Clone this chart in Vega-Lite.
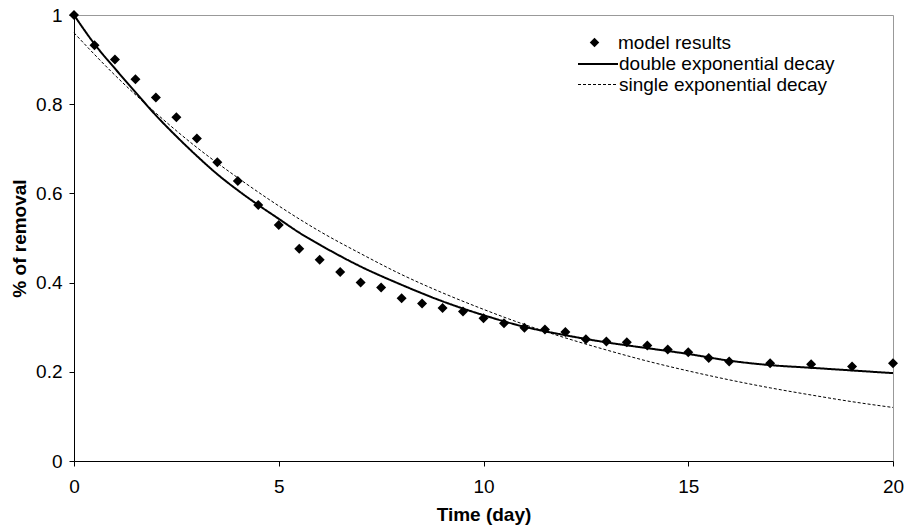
{
  "$schema": "https://vega.github.io/schema/vega-lite/v6.json",
  "width": 819,
  "height": 446,
  "autosize": "none",
  "padding": {"left": 74, "top": 15, "right": 14, "bottom": 71},
  "background": "white",
  "config": {
    "font": "Liberation Sans",
    "view": {"stroke": "#999999", "strokeWidth": 1},
    "axis": {
      "grid": false,
      "domainColor": "black",
      "tickColor": "black",
      "tickSize": 5,
      "labelColor": "black",
      "labelFont": "Liberation Sans",
      "labelFontSize": 19,
      "titleColor": "black",
      "titleFont": "Liberation Sans",
      "titleFontSize": 19,
      "titleFontWeight": "bold"
    }
  },
  "datasets": {
    "model": [
      {"t": 0, "v": 1.0}, {"t": 0.5, "v": 0.932}, {"t": 1, "v": 0.9}, {"t": 1.5, "v": 0.856},
      {"t": 2, "v": 0.815}, {"t": 2.5, "v": 0.771}, {"t": 3, "v": 0.723}, {"t": 3.5, "v": 0.67},
      {"t": 4, "v": 0.628}, {"t": 4.5, "v": 0.574}, {"t": 5, "v": 0.529}, {"t": 5.5, "v": 0.476},
      {"t": 6, "v": 0.451}, {"t": 6.5, "v": 0.424}, {"t": 7, "v": 0.4}, {"t": 7.5, "v": 0.389},
      {"t": 8, "v": 0.365}, {"t": 8.5, "v": 0.353}, {"t": 9, "v": 0.343}, {"t": 9.5, "v": 0.335},
      {"t": 10, "v": 0.32}, {"t": 10.5, "v": 0.309}, {"t": 11, "v": 0.299}, {"t": 11.5, "v": 0.295},
      {"t": 12, "v": 0.289}, {"t": 12.5, "v": 0.273}, {"t": 13, "v": 0.268}, {"t": 13.5, "v": 0.266},
      {"t": 14, "v": 0.259}, {"t": 14.5, "v": 0.25}, {"t": 15, "v": 0.244}, {"t": 15.5, "v": 0.231},
      {"t": 16, "v": 0.223}, {"t": 17, "v": 0.219}, {"t": 18, "v": 0.217}, {"t": 19, "v": 0.212},
      {"t": 20, "v": 0.219}
    ],
    "curves": [
      {"series": "double exponential decay", "t": 0, "v": 1.0},
      {"series": "double exponential decay", "t": 0.5, "v": 0.935},
      {"series": "double exponential decay", "t": 1, "v": 0.88},
      {"series": "double exponential decay", "t": 1.5, "v": 0.827},
      {"series": "double exponential decay", "t": 2, "v": 0.775},
      {"series": "double exponential decay", "t": 2.5, "v": 0.728},
      {"series": "double exponential decay", "t": 3, "v": 0.684},
      {"series": "double exponential decay", "t": 3.5, "v": 0.643},
      {"series": "double exponential decay", "t": 4, "v": 0.607},
      {"series": "double exponential decay", "t": 4.5, "v": 0.574},
      {"series": "double exponential decay", "t": 5, "v": 0.543},
      {"series": "double exponential decay", "t": 5.5, "v": 0.512},
      {"series": "double exponential decay", "t": 6, "v": 0.485},
      {"series": "double exponential decay", "t": 7, "v": 0.436},
      {"series": "double exponential decay", "t": 8, "v": 0.395},
      {"series": "double exponential decay", "t": 9, "v": 0.358},
      {"series": "double exponential decay", "t": 10, "v": 0.327},
      {"series": "double exponential decay", "t": 11, "v": 0.301},
      {"series": "double exponential decay", "t": 12, "v": 0.282},
      {"series": "double exponential decay", "t": 13, "v": 0.266},
      {"series": "double exponential decay", "t": 14, "v": 0.253},
      {"series": "double exponential decay", "t": 15, "v": 0.24},
      {"series": "double exponential decay", "t": 16, "v": 0.225},
      {"series": "double exponential decay", "t": 17, "v": 0.215},
      {"series": "double exponential decay", "t": 18, "v": 0.209},
      {"series": "double exponential decay", "t": 19, "v": 0.203},
      {"series": "double exponential decay", "t": 20, "v": 0.197},
      {"series": "single exponential decay", "t": 0, "v": 0.96},
      {"series": "single exponential decay", "t": 1, "v": 0.865},
      {"series": "single exponential decay", "t": 2, "v": 0.78},
      {"series": "single exponential decay", "t": 3, "v": 0.703},
      {"series": "single exponential decay", "t": 4, "v": 0.635},
      {"series": "single exponential decay", "t": 5, "v": 0.572},
      {"series": "single exponential decay", "t": 6, "v": 0.515},
      {"series": "single exponential decay", "t": 7, "v": 0.465},
      {"series": "single exponential decay", "t": 8, "v": 0.418},
      {"series": "single exponential decay", "t": 9, "v": 0.377},
      {"series": "single exponential decay", "t": 10, "v": 0.34},
      {"series": "single exponential decay", "t": 11, "v": 0.306},
      {"series": "single exponential decay", "t": 12, "v": 0.276},
      {"series": "single exponential decay", "t": 13, "v": 0.249},
      {"series": "single exponential decay", "t": 14, "v": 0.224},
      {"series": "single exponential decay", "t": 15, "v": 0.202},
      {"series": "single exponential decay", "t": 16, "v": 0.182},
      {"series": "single exponential decay", "t": 17, "v": 0.164},
      {"series": "single exponential decay", "t": 18, "v": 0.148},
      {"series": "single exponential decay", "t": 19, "v": 0.133},
      {"series": "single exponential decay", "t": 20, "v": 0.12}
    ]
  },
  "encoding": {
    "x": {
      "field": "t", "type": "quantitative",
      "scale": {"domain": [0, 20], "nice": false, "zero": false},
      "axis": {"values": [0, 5, 10, 15, 20], "title": "Time (day)", "labelPadding": 11, "titlePadding": 9, "format": "~g", "labelFlush": false}
    },
    "y": {
      "field": "v", "type": "quantitative",
      "scale": {"domain": [0, 1], "nice": false},
      "axis": {"values": [0, 0.2, 0.4, 0.6, 0.8, 1], "title": "% of removal", "labelPadding": 7, "titlePadding": 6, "format": "~g", "labelFlush": false}
    }
  },
  "layer": [
    {
      "data": {"name": "curves"},
      "mark": {"type": "line", "color": "black", "interpolate": "monotone"},
      "encoding": {
        "strokeDash": {
          "field": "series", "type": "nominal",
          "scale": {"domain": ["double exponential decay", "single exponential decay"], "range": [[1, 0], [3, 2]]},
          "legend": {"title": null, "orient": "none", "legendX": 513, "legendY": 38, "symbolType": "M-2,0H2", "symbolSize": 400, "symbolStrokeColor": "black", "labelFontSize": 19, "labelFont": "Liberation Sans", "labelColor": "black", "labelOffset": 10, "labelLimit": 400, "rowPadding": 0}
        },
        "strokeWidth": {
          "field": "series", "type": "nominal",
          "scale": {"domain": ["double exponential decay", "single exponential decay"], "range": [2, 1]},
          "legend": {"title": null, "orient": "none", "legendX": 513, "legendY": 38, "symbolType": "M-2,0H2", "symbolSize": 400, "symbolStrokeColor": "black", "labelFontSize": 19, "labelFont": "Liberation Sans", "labelColor": "black", "labelOffset": 10, "labelLimit": 400, "rowPadding": 0}
        }
      }
    },
    {
      "data": {"name": "model"},
      "mark": {"type": "point", "filled": true, "color": "black", "size": 100, "opacity": 1},
      "encoding": {
        "shape": {
          "datum": "model results", "type": "nominal",
          "scale": {"domain": ["model results"], "range": ["diamond"]},
          "legend": {"title": null, "orient": "none", "legendX": 511, "legendY": 18, "symbolSize": 90, "symbolFillColor": "black", "symbolStrokeColor": "black", "symbolOpacity": 1, "labelFontSize": 19, "labelFont": "Liberation Sans", "labelColor": "black", "labelOffset": 14, "labelLimit": 400}
        }
      }
    }
  ]
}
